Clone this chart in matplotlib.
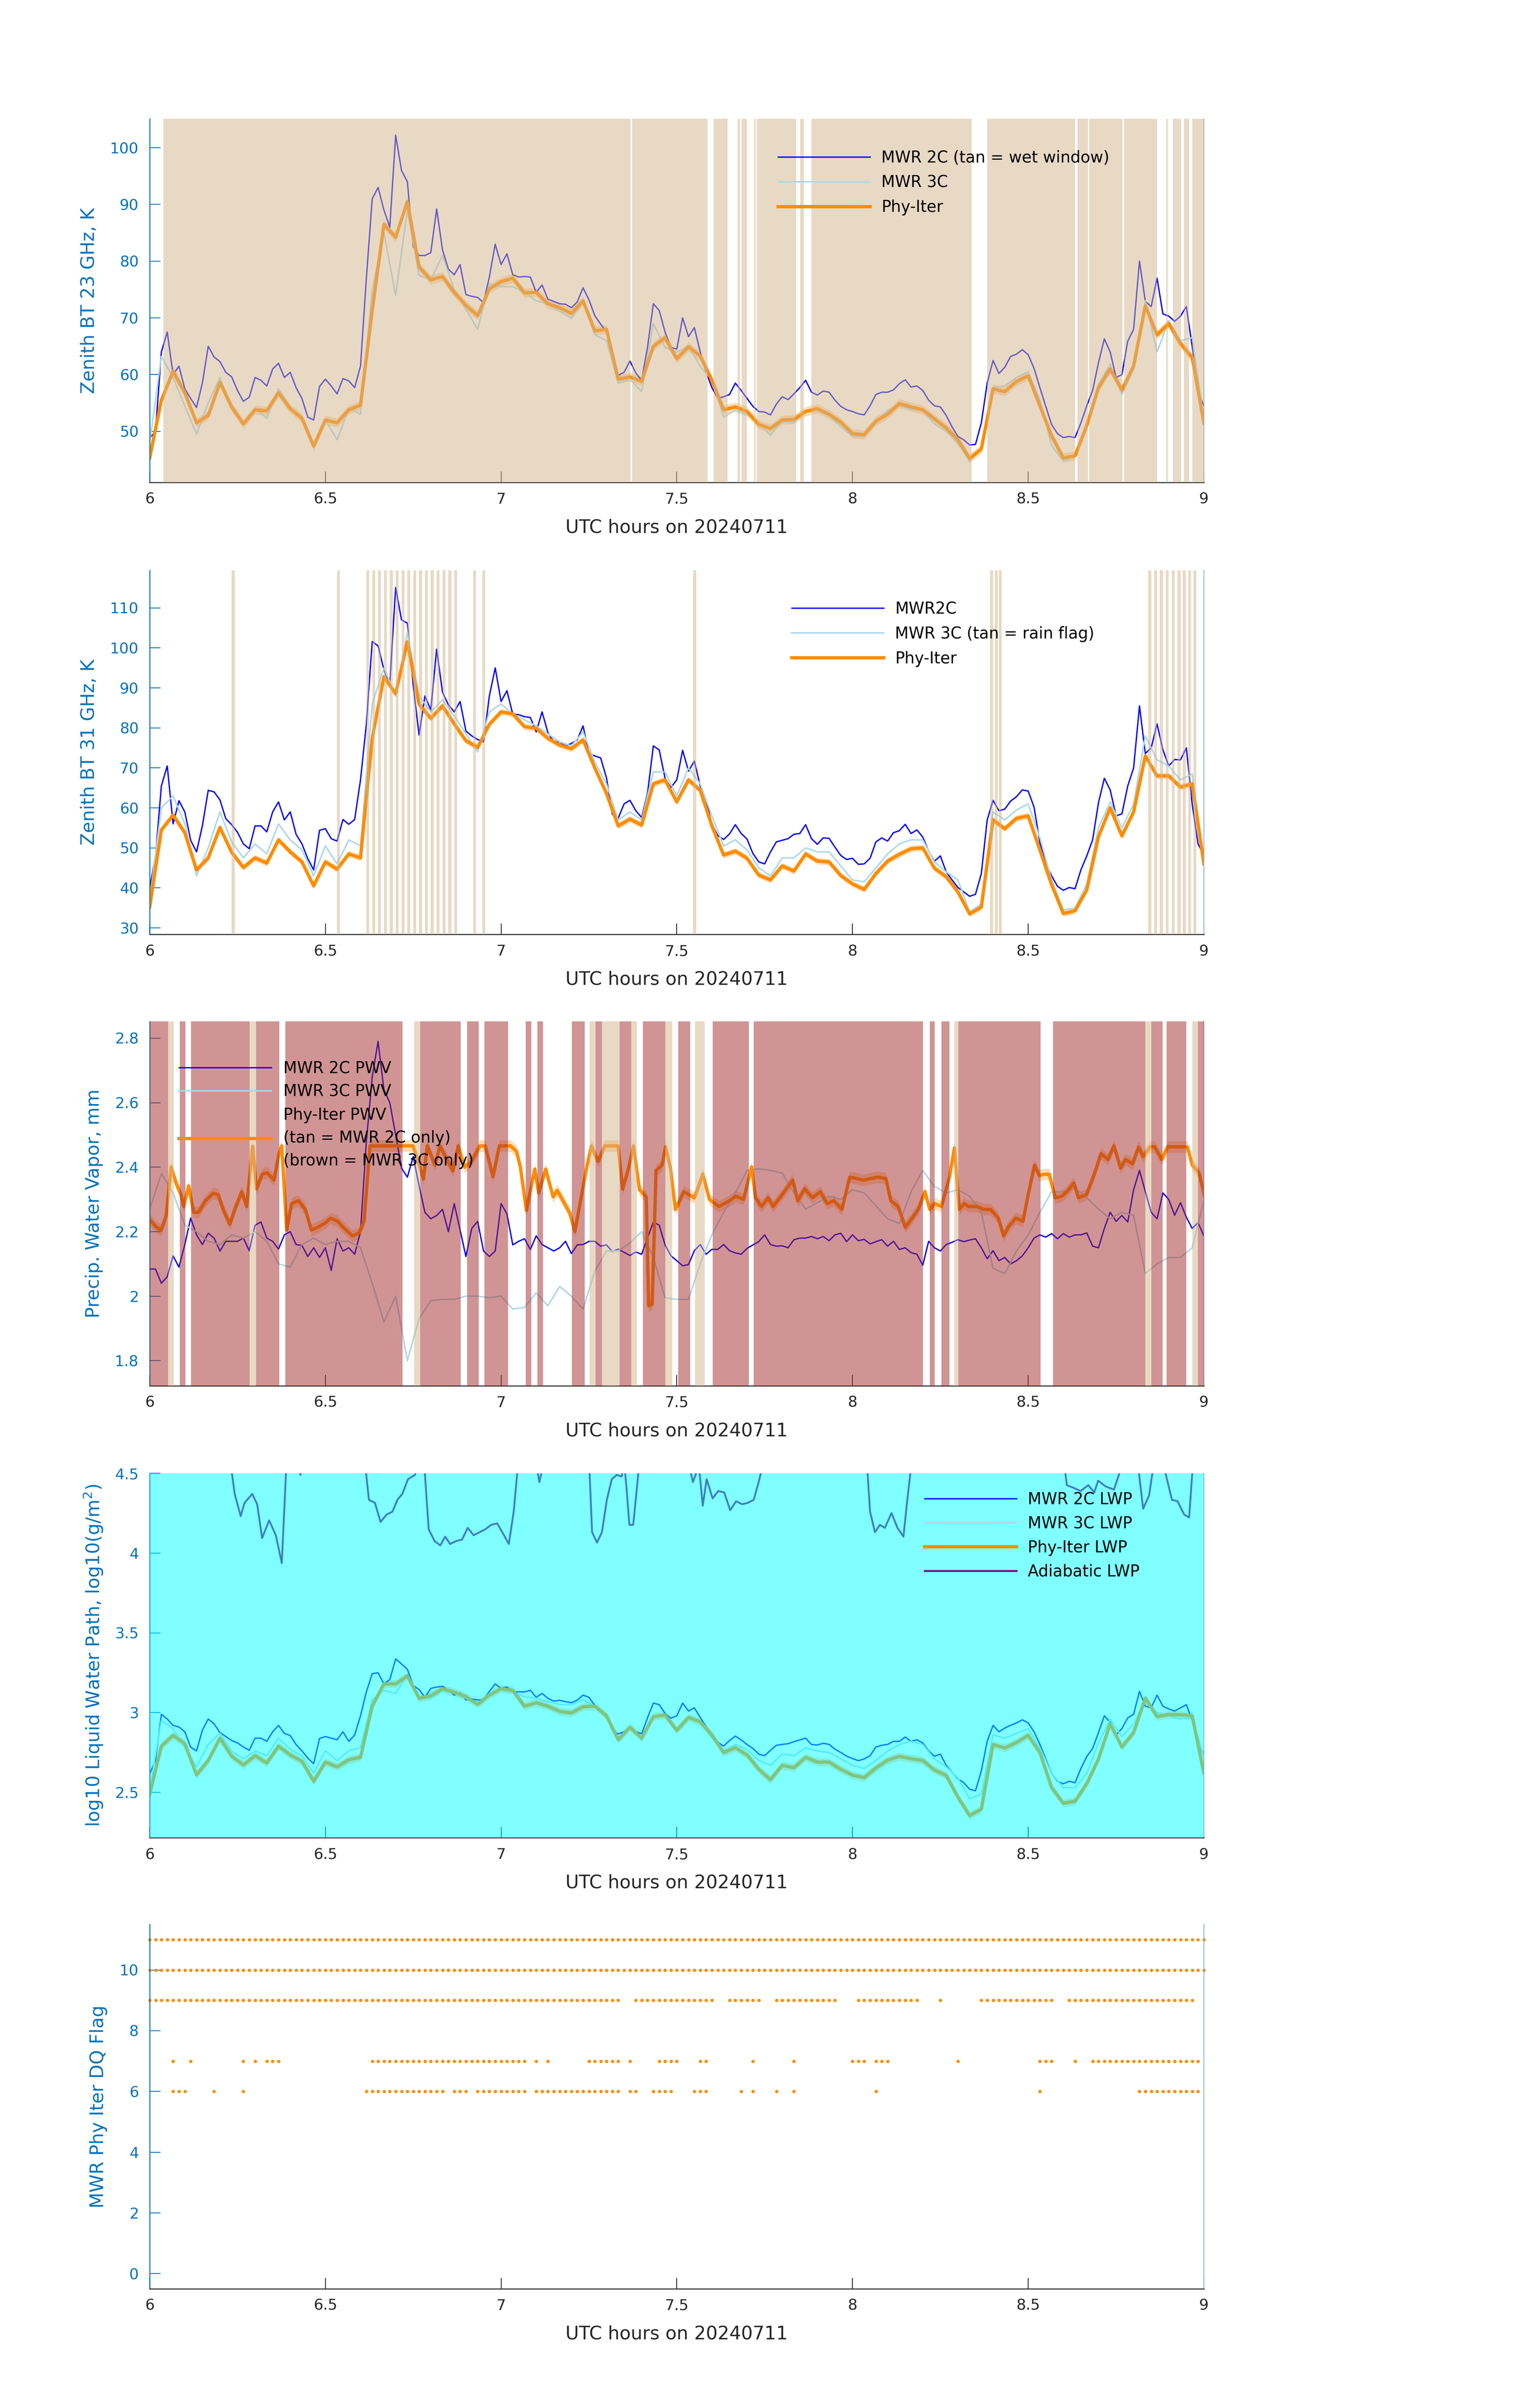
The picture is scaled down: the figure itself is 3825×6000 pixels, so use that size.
import numpy as np
import matplotlib
matplotlib.use('Agg')
import matplotlib.pyplot as plt

plt.rcParams['font.family'] = ['DejaVu Sans']

# ---------------- time axes (UTC hours) ----------------
T1 = 6 + np.arange(181) / 60.0   # 1-minute samples
T2 = 6 + np.arange(91) / 30.0    # 2-minute samples

# ---------------- Panel 1 : 23 GHz BT ----------------
bt23_2c = [48.8, 50.0, 64.0, 67.5, 60.0, 61.5, 57.5, 55.8, 54.2, 58.5,
           65.0, 63.1, 62.3, 60.4, 59.6, 57.2, 55.3, 56.0, 59.5, 59.0,
           58.0, 61.0, 62.0, 59.5, 60.4, 57.7, 55.8, 52.5, 52.0, 57.9,
           59.2, 58.0, 56.6, 59.3, 58.9, 57.7, 61.5, 77.0, 91.0, 93.0,
           89.0, 86.0, 102.2, 96.0, 94.0, 82.5, 81.0, 81.0, 81.5, 89.2,
           82.0, 78.6, 77.6, 79.4, 74.1, 73.8, 73.6, 72.7, 77.2, 83.0,
           79.4, 81.3, 77.6, 77.2, 77.3, 77.2, 74.5, 75.8, 73.3, 72.9,
           72.5, 72.4, 71.8, 72.8, 75.3, 73.2, 70.4, 68.9, 67.5, 62.5,
           59.9, 60.4, 62.4, 60.3, 59.0, 64.8, 72.5, 71.3, 67.5, 64.8,
           64.5, 70.0, 66.7, 68.3, 64.0, 60.5, 57.7, 55.8, 56.1, 56.5,
           58.5, 57.2, 55.8, 54.4, 53.5, 53.4, 52.9, 54.8, 56.1, 55.6,
           56.6, 57.7, 59.0, 56.9, 56.4, 57.1, 56.9, 55.5, 54.4, 53.8,
           53.5, 53.1, 52.9, 54.5, 56.5, 56.9, 56.9, 57.3, 58.4, 59.1,
           57.8, 58.0, 57.2, 55.5, 54.5, 54.3, 52.8, 50.8, 49.1, 48.5,
           47.6, 47.7, 51.5, 58.5, 62.5, 60.2, 61.3, 63.2, 63.6, 64.4,
           63.5, 61.1, 57.7, 54.4, 51.2, 49.6, 48.9, 49.1, 48.9, 51.5,
           54.5, 57.2, 62.1, 66.3, 64.0, 59.5, 60.0, 65.9, 68.0, 80.0,
           72.9, 72.0, 77.0, 70.7, 70.3, 69.4, 70.3, 72.0, 65.0, 56.9,
           54.5]
bt23_3c = [48, 63.2, 59.5, 54.5, 49.5, 55, 59.5, 54, 51.3, 54,
           52.3, 57.5, 54.2, 52.5, 47.5, 52, 48.5, 54, 53, 75,
           85, 74, 89, 77.5, 76.7, 81, 75, 71.5, 68, 76,
           75.5, 75.5, 74.5, 73, 72.5, 71.2, 69.9, 72.9, 67, 66,
           58.5, 59.2, 57, 69, 64.8, 64, 65, 61.5, 59, 52.5,
           53.7, 52.9, 51.5, 49.3, 51.8, 51.5, 53.6, 53.6, 52.8, 50.8,
           49.1, 49.1, 51.5, 53.7, 54.5, 53.9, 53.7, 51.3, 50, 47.8,
           44.8, 47, 57.7, 58, 59.5, 60.5, 55.5, 47.5, 44.7, 45.6,
           51.5, 58.3, 61.8, 56.5, 61, 73, 64, 69.5, 66, 66.5, 52]
bt23_phy = [45.3, 55.5, 60.6, 56.8, 51.5, 52.8, 58.6, 54.3, 51.3, 53.8,
            53.6, 56.8, 54.0, 52.3, 47.4, 52.0, 51.5, 53.8, 54.6, 71.3,
            86.5, 84.2, 90.5, 79.0, 76.7, 77.3, 74.5, 72.2, 70.4, 75.1,
            76.4, 77.0, 74.4, 74.5, 72.5, 71.8, 70.8, 73.0, 67.7, 68.0,
            59.2, 59.6, 58.8, 65.0, 66.5, 62.8, 64.9, 63.3, 59.0, 53.8,
            54.3, 53.5, 51.2, 50.5, 52.0, 52.1, 53.5, 54.0, 53.0, 51.6,
            49.6, 49.4, 51.8, 53.0, 54.9, 54.3, 53.8, 52.2, 50.6, 48.5,
            45.2, 46.9, 57.5, 57.0, 58.8, 59.8, 54.5, 49.2, 45.3, 45.7,
            51.0, 57.7, 61.0, 57.3, 61.5, 72.1, 67.0, 69.0, 65.5, 63.0, 51.5]
wet_window = [(6.039, 7.368), (7.373, 7.587), (7.604, 7.645), (7.673, 7.680),
              (7.684, 7.699), (7.720, 7.724), (7.728, 7.840), (7.851, 7.861),
              (7.883, 8.339), (8.383, 8.634), (8.640, 8.670), (8.674, 8.768),
              (8.773, 8.866), (8.893, 8.897), (8.912, 8.935), (8.943, 8.958),
              (8.967, 9.0)]

# ---------------- Panel 2 : 31 GHz BT ----------------
bt31_2c = [39.8, 48.0, 65.5, 70.5, 56.0, 61.8, 59.0, 51.9, 49.0, 55.5,
           64.4, 64.0, 62.0, 57.3, 55.8, 53.9, 51.0, 49.8, 55.5, 55.5,
           54.0, 59.0, 61.5, 57.0, 59.0, 53.4, 51.0, 47.3, 44.5, 54.4,
           54.8, 52.3, 51.7, 57.1, 55.9, 57.1, 67.0, 81.0, 101.6, 100.5,
           94.5, 91.0, 115.1, 107.0, 106.2, 90.6, 78.2, 88.0, 84.5, 99.7,
           88.9, 85.8, 84.0, 86.6, 79.2, 78.0, 77.1, 76.5, 88.0, 95.0,
           86.6, 89.3, 83.4, 83.3, 82.8, 82.6, 79.0, 84.0, 78.8, 76.5,
           76.5, 75.5, 76.1, 77.0, 80.5, 73.6, 73.0, 72.5, 67.5, 58.4,
           57.4, 61.0, 61.9, 59.3, 57.6, 63.6, 75.5, 74.5, 67.4, 65.1,
           67.0, 74.4, 69.2, 71.7, 65.5, 62.0, 55.9, 53.1, 52.1, 53.5,
           55.8, 53.6, 52.2, 48.6, 46.5, 46.0, 49.0, 51.5, 51.9, 52.3,
           53.4, 53.6, 55.8, 52.3, 50.9, 52.5, 52.4, 50.2, 48.1, 47.1,
           47.4, 45.9, 46.0, 47.4, 51.5, 52.5, 51.7, 53.8, 54.3, 55.9,
           53.6, 54.5, 52.7, 49.2, 46.7, 48.0, 44.0, 42.0, 40.1, 39.0,
           37.9, 38.4, 43.6, 57.0, 61.9, 59.3, 59.7, 61.7, 62.8, 64.5,
           64.2, 60.2, 51.3, 46.2, 43.0, 40.4, 39.4, 40.1, 39.8, 44.5,
           48.0, 52.0, 61.3, 67.4, 64.5, 58.0, 58.5, 65.5, 70.0, 85.5,
           73.6, 75.0, 81.0, 74.5, 70.5, 72.1, 72.0, 75.0, 61.0, 51.0,
           48.2]
bt31_3c = [37, 60, 63, 56, 43, 50, 59, 51.5, 47.5, 51,
           48.5, 56, 52, 49.5, 43, 50.5, 46, 52, 50.5, 86,
           95, 88, 104, 88, 84, 87, 83, 78.5, 74, 84,
           86, 83.5, 82, 80.5, 78.5, 76.5, 75.5, 79, 71.5, 66,
           57, 59, 57, 69, 69, 63, 70, 66, 58, 50.5,
           52, 49.5, 45, 43, 47.5, 47.5, 50, 49, 49, 45.5,
           42, 41.5, 45, 48.5, 51, 52, 52, 46.5, 44, 42,
           34, 36, 59, 57, 59.5, 61, 52.5, 42, 34.5, 35,
           41, 55, 61.5, 55, 61, 78, 72, 70.5, 67, 68.5, 47]
bt31_phy = [35.2, 54.5, 58.2, 53.8, 44.5, 47.5, 55.1, 48.9, 45.1, 47.5,
            46.2, 52.0, 49.0, 46.5, 40.5, 46.5, 44.7, 48.5, 47.5, 77.4,
            92.8, 88.5, 101.5, 85.9, 82.4, 85.5, 81.0, 76.8, 75.1, 80.9,
            84.0, 83.5, 80.3, 79.9, 77.4, 75.7, 74.8, 77.0, 70.0, 63.6,
            55.5, 57.2, 55.7, 66.0, 67.0, 61.5, 67.0, 64.4, 55.5, 48.2,
            49.2, 47.4, 43.2, 42.0, 45.5, 44.2, 48.5, 46.7, 46.5, 43.1,
            41.0, 39.6, 43.6, 46.7, 48.4, 49.8, 50.0, 44.9, 42.8, 39.0,
            33.5, 35.2, 57.0, 54.8, 57.4, 58.0, 49.5, 40.8, 33.6, 34.3,
            39.5, 52.8, 60.0, 53.0, 59.0, 73.0, 68.0, 68.0, 65.2, 66.0, 46.0]
# rain flag minutes after 06:00 UTC
rain_flag_min = [14.0, 32.0, 37, 38, 39, 40, 41, 42, 43, 44, 45, 46, 47, 48,
                 49, 50, 51, 52, 55.2, 56.8, 92.8, 143.5, 144.3, 145.0,
                 170.5, 171.5, 172.5, 173.5, 174.5, 175.5, 176.4, 177.3, 178.2]

# ---------------- Panel 3 : PWV ----------------
pwv_2c = [2.084, 2.084, 2.040, 2.060, 2.125, 2.090, 2.160, 2.242, 2.190, 2.160,
          2.195, 2.180, 2.140, 2.170, 2.170, 2.170, 2.180, 2.141, 2.220, 2.230,
          2.180, 2.170, 2.146, 2.190, 2.200, 2.160, 2.157, 2.123, 2.150, 2.120,
          2.150, 2.080, 2.178, 2.140, 2.150, 2.130, 2.200, 2.480, 2.680, 2.790,
          2.640, 2.600, 2.500, 2.397, 2.369, 2.433, 2.342, 2.260, 2.240, 2.250,
          2.269, 2.200, 2.287, 2.205, 2.123, 2.210, 2.232, 2.140, 2.123, 2.140,
          2.287, 2.255, 2.159, 2.170, 2.178, 2.145, 2.187, 2.160, 2.150, 2.140,
          2.150, 2.170, 2.132, 2.159, 2.160, 2.170, 2.170, 2.155, 2.159, 2.138,
          2.146, 2.136, 2.126, 2.137, 2.130, 2.180, 2.230, 2.220, 2.159, 2.125,
          2.110, 2.094, 2.098, 2.141, 2.160, 2.130, 2.145, 2.145, 2.160, 2.141,
          2.134, 2.130, 2.148, 2.159, 2.169, 2.190, 2.160, 2.155, 2.156, 2.150,
          2.175, 2.180, 2.180, 2.185, 2.178, 2.185, 2.172, 2.190, 2.195, 2.169,
          2.190, 2.172, 2.176, 2.162, 2.169, 2.175, 2.155, 2.170, 2.145, 2.150,
          2.135, 2.130, 2.096, 2.170, 2.150, 2.140, 2.160, 2.167, 2.175, 2.169,
          2.174, 2.178, 2.150, 2.116, 2.141, 2.110, 2.120, 2.100, 2.110, 2.125,
          2.150, 2.180, 2.190, 2.183, 2.194, 2.178, 2.194, 2.183, 2.190, 2.190,
          2.196, 2.155, 2.150, 2.210, 2.260, 2.232, 2.250, 2.230, 2.330, 2.390,
          2.324, 2.260, 2.240, 2.320, 2.300, 2.251, 2.290, 2.245, 2.210, 2.228,
          2.187]
pwv_3c = [2.269, 2.38, 2.32, 2.22, 2.20, 2.17, 2.16, 2.19, 2.18, 2.20,
          2.17, 2.10, 2.09, 2.16, 2.18, 2.16, 2.17, 2.17, 2.15, 2.04,
          1.92, 2.00, 1.80, 1.93, 1.986, 1.99, 1.99, 2.00, 2.00, 1.995,
          2.00, 1.96, 1.965, 2.01, 1.97, 2.03, 2.00, 1.96, 2.077, 2.14,
          2.14, 2.165, 2.20, 2.12, 1.995, 1.99, 1.99, 2.10, 2.19, 2.26,
          2.32, 2.39, 2.395, 2.39, 2.382, 2.32, 2.27, 2.29, 2.31, 2.30,
          2.33, 2.32, 2.28, 2.24, 2.225, 2.324, 2.39, 2.34, 2.32, 2.33,
          2.31, 2.26, 2.086, 2.07, 2.14, 2.19, 2.26, 2.324, 2.324, 2.335,
          2.305, 2.27, 2.24, 2.26, 2.25, 2.07, 2.10, 2.12, 2.12, 2.15, 2.296]
pwv_phy_t = [6.000, 6.019, 6.033, 6.047, 6.061, 6.075, 6.089, 6.097, 6.111, 6.125,
             6.139, 6.159, 6.181, 6.195, 6.209, 6.228, 6.242, 6.262, 6.276, 6.293,
             6.304, 6.320, 6.334, 6.354, 6.368, 6.376, 6.390, 6.404, 6.423, 6.443,
             6.460, 6.479, 6.501, 6.515, 6.535, 6.554, 6.577, 6.596, 6.610, 6.627,
             6.750, 6.779, 6.790, 6.812, 6.826, 6.863, 6.878, 6.896, 6.916, 6.940,
             6.955, 6.977, 6.995, 7.027, 7.044, 7.055, 7.072, 7.096, 7.107, 7.127,
             7.148, 7.160, 7.196, 7.210, 7.242, 7.257, 7.276, 7.295, 7.333, 7.346,
             7.361, 7.377, 7.394, 7.413, 7.420, 7.430, 7.441, 7.458, 7.468, 7.482,
             7.496, 7.520, 7.550, 7.574, 7.593, 7.620, 7.650, 7.668, 7.690, 7.713,
             7.724, 7.741, 7.760, 7.774, 7.800, 7.830, 7.844, 7.864, 7.886, 7.908,
             7.928, 7.947, 7.970, 7.992, 8.011, 8.031, 8.053, 8.072, 8.095, 8.109,
             8.130, 8.150, 8.170, 8.187, 8.206, 8.220, 8.234, 8.253, 8.276, 8.290,
             8.304, 8.318, 8.330, 8.354, 8.373, 8.393, 8.415, 8.430, 8.443, 8.465,
             8.485, 8.500, 8.518, 8.532, 8.546, 8.560, 8.577, 8.596, 8.610, 8.630,
             8.643, 8.666, 8.688, 8.707, 8.727, 8.744, 8.763, 8.777, 8.797, 8.814,
             8.827, 8.847, 8.860, 8.880, 8.897, 8.953, 8.967, 8.986, 9.005]
pwv_phy = [2.237, 2.214, 2.205, 2.250, 2.401, 2.351, 2.315, 2.278, 2.342, 2.260,
           2.260, 2.296, 2.319, 2.315, 2.269, 2.223, 2.269, 2.324, 2.278, 2.465,
           2.333, 2.378, 2.383, 2.360, 2.442, 2.466, 2.205, 2.287, 2.296, 2.269,
           2.205, 2.214, 2.228, 2.242, 2.232, 2.210, 2.187, 2.196, 2.232, 2.466,
           2.466, 2.363, 2.466, 2.406, 2.466, 2.388, 2.466, 2.400, 2.418, 2.466,
           2.466, 2.370, 2.466, 2.466, 2.449, 2.400, 2.266, 2.394, 2.320, 2.394,
           2.308, 2.328, 2.257, 2.200, 2.390, 2.466, 2.418, 2.466, 2.466, 2.332,
           2.390, 2.466, 2.330, 2.308, 1.970, 1.975, 2.390, 2.406, 2.463, 2.397,
           2.269, 2.324, 2.305, 2.378, 2.300, 2.278, 2.296, 2.310, 2.300, 2.401,
           2.305, 2.278, 2.305, 2.278, 2.315, 2.360, 2.296, 2.333, 2.305, 2.324,
           2.287, 2.296, 2.269, 2.369, 2.365, 2.360, 2.365, 2.369, 2.365, 2.296,
           2.278, 2.214, 2.242, 2.269, 2.324, 2.269, 2.287, 2.278, 2.369, 2.460,
           2.269, 2.287, 2.278, 2.278, 2.269, 2.269, 2.242, 2.187, 2.214, 2.242,
           2.232, 2.315, 2.406, 2.374, 2.378, 2.378, 2.305, 2.310, 2.324, 2.351,
           2.305, 2.315, 2.378, 2.442, 2.424, 2.466, 2.397, 2.424, 2.410, 2.463,
           2.433, 2.463, 2.463, 2.424, 2.463, 2.463, 2.406, 2.383, 2.296]
mwr3c_only = [(6.0, 6.053), (6.086, 6.102), (6.118, 6.284), (6.303, 6.369),
              (6.386, 6.719), (6.770, 6.885), (6.903, 6.936), (6.952, 7.020),
              (7.070, 7.086), (7.103, 7.119), (7.202, 7.238), (7.269, 7.287),
              (7.337, 7.370), (7.403, 7.468), (7.504, 7.538), (7.602, 7.705),
              (7.719, 8.201), (8.220, 8.234), (8.253, 8.276), (8.301, 8.535),
              (8.571, 8.833), (8.850, 8.883), (8.894, 8.950), (8.983, 9.0)]
mwr2c_only = [(6.053, 6.069), (6.284, 6.303), (6.753, 6.770), (7.252, 7.269),
              (7.287, 7.337), (7.370, 7.386), (7.468, 7.487), (7.552, 7.579),
              (8.290, 8.301), (8.833, 8.850), (8.967, 8.983)]

# ---------------- Panel 4 : log10 LWP ----------------
lwp_2c = [2.616, 2.700, 2.990, 2.960, 2.920, 2.910, 2.880, 2.783, 2.760, 2.890,
          2.960, 2.930, 2.875, 2.850, 2.825, 2.810, 2.785, 2.764, 2.840, 2.840,
          2.820, 2.880, 2.920, 2.870, 2.856, 2.800, 2.760, 2.715, 2.680, 2.838,
          2.850, 2.840, 2.830, 2.880, 2.820, 2.860, 2.980, 3.130, 3.244, 3.250,
          3.180, 3.207, 3.337, 3.305, 3.272, 3.170, 3.145, 3.096, 3.152, 3.160,
          3.165, 3.140, 3.110, 3.124, 3.080, 3.085, 3.080, 3.078, 3.133, 3.180,
          3.152, 3.161, 3.130, 3.130, 3.130, 3.140, 3.096, 3.120, 3.090, 3.072,
          3.077, 3.069, 3.062, 3.078, 3.110, 3.096, 3.045, 3.015, 2.980, 2.890,
          2.866, 2.880, 2.910, 2.880, 2.868, 2.967, 3.060, 3.050, 2.995, 2.965,
          2.980, 3.060, 3.010, 3.030, 2.970, 2.912, 2.866, 2.815, 2.790, 2.825,
          2.853, 2.829, 2.800, 2.775, 2.740, 2.730, 2.764, 2.795, 2.801, 2.805,
          2.818, 2.829, 2.840, 2.800, 2.797, 2.808, 2.801, 2.771, 2.750, 2.727,
          2.712, 2.699, 2.710, 2.730, 2.785, 2.795, 2.801, 2.820, 2.820, 2.847,
          2.820, 2.830, 2.810, 2.760, 2.727, 2.740, 2.670, 2.626, 2.585, 2.561,
          2.520, 2.510, 2.635, 2.820, 2.920, 2.880, 2.903, 2.921, 2.935, 2.955,
          2.935, 2.880, 2.801, 2.710, 2.620, 2.570, 2.554, 2.570, 2.560, 2.650,
          2.725, 2.775, 2.875, 2.980, 2.940, 2.860, 2.900, 2.967, 2.990, 3.133,
          3.041, 3.030, 3.110, 3.040, 3.023, 3.010, 3.030, 3.050, 2.950, 2.785,
          2.746]
lwp_3c = [2.52, 2.95, 2.9, 2.78, 2.66, 2.8, 2.87, 2.76, 2.71, 2.76,
          2.73, 2.84, 2.77, 2.73, 2.62, 2.76, 2.7, 2.76, 2.78, 3.08,
          3.14, 3.12, 3.24, 3.1, 3.09, 3.14, 3.12, 3.09, 3.05, 3.12,
          3.14, 3.13, 3.1, 3.09, 3.07, 3.05, 3.05, 3.08, 3.04, 2.97,
          2.84, 2.9, 2.85, 2.98, 2.98, 2.9, 2.97, 2.94, 2.84, 2.76,
          2.8, 2.77, 2.7, 2.67, 2.74, 2.73, 2.78, 2.76, 2.75, 2.71,
          2.67, 2.65, 2.7, 2.76, 2.8, 2.82, 2.8, 2.71, 2.66, 2.59,
          2.46, 2.49, 2.86, 2.84, 2.87, 2.9, 2.78, 2.62, 2.53, 2.53,
          2.62, 2.81, 2.96, 2.85, 2.93, 3.08, 3.0, 2.98, 2.96, 2.97, 2.72]
lwp_phy = [2.487, 2.79, 2.857, 2.806, 2.61, 2.70, 2.84, 2.727, 2.672, 2.73,
           2.685, 2.79, 2.735, 2.695, 2.57, 2.69, 2.66, 2.705, 2.72, 3.041,
           3.18, 3.18, 3.23, 3.09, 3.106, 3.15, 3.128, 3.10, 3.052, 3.11,
           3.15, 3.14, 3.04, 3.062, 3.041, 3.008, 2.998, 3.037, 3.041, 2.98,
           2.83, 2.908, 2.84, 2.975, 2.986, 2.889, 2.97, 2.943, 2.86, 2.75,
           2.78, 2.735, 2.645, 2.58, 2.67, 2.655, 2.72, 2.69, 2.69, 2.645,
           2.608, 2.593, 2.653, 2.702, 2.726, 2.711, 2.70, 2.64, 2.607, 2.47,
           2.355, 2.395, 2.80, 2.778, 2.813, 2.857, 2.75, 2.53, 2.432, 2.445,
           2.555, 2.709, 2.93, 2.785, 2.875, 3.09, 2.975, 2.988, 2.987, 2.98, 2.62]
adi_t = [6.000, 6.200, 6.228, 6.242, 6.259, 6.270, 6.292, 6.306, 6.320, 6.340,
         6.359, 6.376, 6.390, 6.410, 6.429, 6.440, 6.550, 6.611, 6.624, 6.641,
         6.657, 6.674, 6.691, 6.705, 6.719, 6.735, 6.755, 6.770, 6.780, 6.794,
         6.811, 6.827, 6.841, 6.855, 6.872, 6.889, 6.905, 6.922, 6.939, 6.955,
         6.972, 6.989, 7.006, 7.022, 7.036, 7.050, 7.080, 7.109, 7.125, 7.200,
         7.250, 7.259, 7.273, 7.287, 7.301, 7.315, 7.329, 7.343, 7.351, 7.357,
         7.365, 7.376, 7.384, 7.395, 7.500, 7.530, 7.546, 7.563, 7.574, 7.585,
         7.602, 7.618, 7.635, 7.652, 7.669, 7.686, 7.702, 7.719, 7.733, 7.750,
         7.900, 8.000, 8.040, 8.050, 8.064, 8.078, 8.092, 8.111, 8.128, 8.145,
         8.156, 8.170, 8.400, 8.600, 8.610, 8.630, 8.649, 8.671, 8.688, 8.699,
         8.721, 8.744, 8.758, 8.770, 8.810, 8.827, 8.844, 8.860, 8.880, 8.909,
         8.925, 8.944, 8.958, 8.970, 9.000]
adi_lwp = [4.80, 4.90, 4.60, 4.371, 4.232, 4.315, 4.371, 4.306, 4.094, 4.205,
           4.112, 3.937, 4.60, 4.80, 4.49, 4.70, 4.90, 4.60, 4.334, 4.315,
           4.195, 4.241, 4.260, 4.334, 4.371, 4.463, 4.490, 4.60, 4.60, 4.149,
           4.075, 4.048, 4.103, 4.057, 4.075, 4.085, 4.158, 4.112, 4.131, 4.149,
           4.177, 4.186, 4.121, 4.057, 4.260, 4.60, 4.80, 4.445, 4.60, 4.80,
           4.60, 4.131, 4.066, 4.131, 4.334, 4.463, 4.490, 4.480, 4.550, 4.408,
           4.177, 4.177, 4.352, 4.60, 4.90, 4.60, 4.445, 4.550, 4.297, 4.463,
           4.343, 4.389, 4.380, 4.269, 4.325, 4.306, 4.315, 4.334, 4.445, 4.60,
           4.90, 4.80, 4.60, 4.260, 4.131, 4.177, 4.158, 4.251, 4.158, 4.103,
           4.334, 4.60, 4.90, 4.60, 4.426, 4.408, 4.389, 4.426, 4.380, 4.454,
           4.417, 4.398, 4.490, 4.60, 4.60, 4.278, 4.361, 4.60, 4.60, 4.334,
           4.325, 4.241, 4.223, 4.60, 4.80]

# ---------------- Panel 5 : DQ flags (runs of minutes after 06:00) ----------------
flag_runs = {
    11: [(0, 180)],
    10: [(0, 180)],
    9: [(0, 80), (83, 96), (99, 104), (107, 117), (121, 131), (135, 135),
        (142, 154), (157, 178)],
    7: [(4, 4), (7, 7), (16, 16), (18, 18), (20, 22), (38, 64), (66, 66), (68, 68),
        (75, 80), (82, 82), (87, 90), (94, 95), (103, 103), (110, 110),
        (120, 122), (124, 126), (138, 138), (152, 154), (158, 158), (161, 179)],
    6: [(4, 6), (11, 11), (16, 16), (37, 50), (52, 54), (56, 64), (66, 80),
        (82, 83), (86, 89), (93, 95), (101, 101), (103, 103), (107, 107),
        (110, 110), (124, 124), (152, 152), (169, 179)],
}

# ---------------- styling ----------------
MBLUE = (0.0, 0.447, 0.741)
DARK = (0.15, 0.15, 0.15)
ORANGE = (1.0, 0.549, 0.0)
TAN = '#D2B48C'
BROWN = '#A52A2A'
XT = [6, 6.5, 7, 7.5, 8, 8.5, 9]
XTL = ['6', '6.5', '7', '7.5', '8', '8.5', '9']

fig = plt.figure(figsize=(12.75, 20), dpi=300)
L, W = 0.0975, 0.6868
pos = [(0.79967, 0.1510), (0.6120, 0.15117), (0.4245, 0.15133),
       (0.23683, 0.15133), (0.0495, 0.15133)]
axs = [fig.add_axes([L, b, W, h]) for b, h in pos]


def style(ax, ylim, yticks, yticklabels, ylabel, labx):
    ax.set_xlim(6, 9)
    ax.set_ylim(*ylim)
    ax.set_xticks(XT)
    ax.set_xticklabels(XTL)
    ax.set_yticks(yticks)
    ax.set_yticklabels(yticklabels)
    ax.tick_params(axis='both', direction='in', length=6.5, width=0.5, labelsize=9)
    ax.tick_params(axis='x', colors=DARK, pad=6)
    ax.tick_params(axis='y', colors=MBLUE, pad=6.5)
    ax.spines['top'].set_visible(False)
    ax.spines['left'].set_color(MBLUE)
    ax.spines['left'].set_linewidth(0.6)
    ax.spines['bottom'].set_color(DARK)
    ax.spines['bottom'].set_linewidth(0.6)
    ax.spines['right'].set_color((0.55, 0.70, 0.85))
    ax.spines['right'].set_linewidth(0.5)
    ax.set_xlabel('UTC hours on 20240711', fontsize=11, color=DARK, labelpad=7)
    ax.set_ylabel(ylabel, fontsize=11, color=MBLUE)
    ax.yaxis.set_label_coords(labx, 0.5)


def legend(ax, x0, ytop, ls=0.55, pad=0.7):
    leg = ax.legend(loc='upper left', bbox_to_anchor=(x0, ytop), frameon=False,
                    fontsize=9.5, handlelength=5.8, handletextpad=pad,
                    labelspacing=ls, borderpad=0, borderaxespad=0)
    leg.set_zorder(10)
    return leg


# ---- Panel 1
ax = axs[0]
p23 = np.array(bt23_phy)
ax.fill_between(T2, p23 - 0.8, p23 + 0.8, color=ORANGE, alpha=0.3, lw=0, zorder=1.5)
ax.plot(T1, bt23_2c, color='blue', lw=0.8, zorder=2, label='MWR 2C (tan = wet window)')
ax.plot(T2, bt23_3c, color='lightblue', lw=0.9, zorder=2.1, label='MWR 3C')
ax.plot(T2, bt23_phy, color=ORANGE, lw=2.0, zorder=2.2, label='Phy-Iter')
for a, b in wet_window:
    ax.axvspan(a, b, color=TAN, alpha=0.5, lw=0, zorder=3)
style(ax, (41, 105.1), [50, 60, 70, 80, 90, 100], ['50', '60', '70', '80', '90', '100'],
      'Zenith BT 23 GHz, K', -0.0487)
legend(ax, 0.596, 0.914)

# ---- Panel 2
ax = axs[1]
p31 = np.array(bt31_phy)
ax.fill_between(T2, p31 - 0.8, p31 + 0.8, color=ORANGE, alpha=0.3, lw=0, zorder=1.5)
ax.plot(T1, bt31_2c, color='blue', lw=0.8, zorder=2, label='MWR2C')
ax.plot(T2, bt31_3c, color='lightblue', lw=0.9, zorder=2.1, label='MWR 3C (tan = rain flag)')
ax.plot(T2, bt31_phy, color=ORANGE, lw=2.0, zorder=2.2, label='Phy-Iter')
for m in rain_flag_min:
    ax.axvspan(6 + m / 60.0, 6 + (m + 0.5) / 60.0, color=TAN, alpha=0.5, lw=0, zorder=3)
style(ax, (28.4, 119.4), [30, 40, 50, 60, 70, 80, 90, 100, 110],
      ['30', '40', '50', '60', '70', '80', '90', '100', '110'],
      'Zenith BT 31 GHz, K', -0.0487)
legend(ax, 0.609, 0.915)

# ---- Panel 3
ax = axs[2]
pp = np.array(pwv_phy)
ax.fill_between(pwv_phy_t, pp - 0.018, pp + 0.018, color=ORANGE, alpha=0.3, lw=0, zorder=1.5)
ax.plot(T1, pwv_2c, color='blue', lw=0.8, zorder=2, label='MWR 2C PWV')
ax.plot(T2, pwv_3c, color='lightblue', lw=0.9, zorder=2.1, label='MWR 3C PWV')
ax.plot(pwv_phy_t, pwv_phy, color=ORANGE, lw=2.0, zorder=2.2,
        label='Phy-Iter PWV\n(tan = MWR 2C only)\n(brown = MWR 3C only)')
for a, b in mwr3c_only:
    ax.axvspan(a, b, color=BROWN, alpha=0.5, lw=0, zorder=3)
for a, b in mwr2c_only:
    ax.axvspan(a, b, color=TAN, alpha=0.5, lw=0, zorder=3)
style(ax, (1.722, 2.852), [1.8, 2.0, 2.2, 2.4, 2.6, 2.8],
      ['1.8', '2', '2.2', '2.4', '2.6', '2.8'], 'Precip. Water Vapor, mm', -0.044)
leg = legend(ax, 0.028, 0.892, ls=0.45, pad=0.76)
for t in leg.get_texts():
    t.set_linespacing(1.55)

# ---- Panel 4
ax = axs[3]
lp = np.array(lwp_phy)
ax.fill_between(T2, lp - 0.025, lp + 0.025, color=ORANGE, alpha=0.3, lw=0, zorder=1.5)
ax.plot(T1, lwp_2c, color='blue', lw=0.8, zorder=2, label='MWR 2C LWP')
ax.plot(T2, lwp_3c, color='lightblue', lw=0.9, zorder=2.1, label='MWR 3C LWP')
ax.plot(T2, lwp_phy, color=ORANGE, lw=2.0, zorder=2.2, label='Phy-Iter LWP')
ax.plot(adi_t, adi_lwp, color='purple', lw=1.1, zorder=2.3, label='Adiabatic LWP')
ax.axvspan(6, 9, color='cyan', alpha=0.5, lw=0, zorder=3)
style(ax, (2.216, 4.5), [2.5, 3.0, 3.5, 4.0, 4.5], ['2.5', '3', '3.5', '4', '4.5'],
      r'log10 Liquid Water Path, log10(g/m$^2$)', -0.043)
legend(ax, 0.735, 0.949, ls=0.5)

# ---- Panel 5
ax = axs[4]
for row, runs in flag_runs.items():
    mins = []
    for a, b in runs:
        mins.extend(range(a, b + 1))
    mins = np.array(mins, dtype=float)
    ax.plot(6 + mins / 60.0, np.full(mins.size, row), 'o', ms=2.0,
            color=ORANGE, mec='none', zorder=2, clip_on=False)
style(ax, (-0.5, 11.5), [0, 2, 4, 6, 8, 10], ['0', '2', '4', '6', '8', '10'],
      'MWR Phy Iter DQ Flag', -0.040)

fig.savefig('out.png', dpi=300)
